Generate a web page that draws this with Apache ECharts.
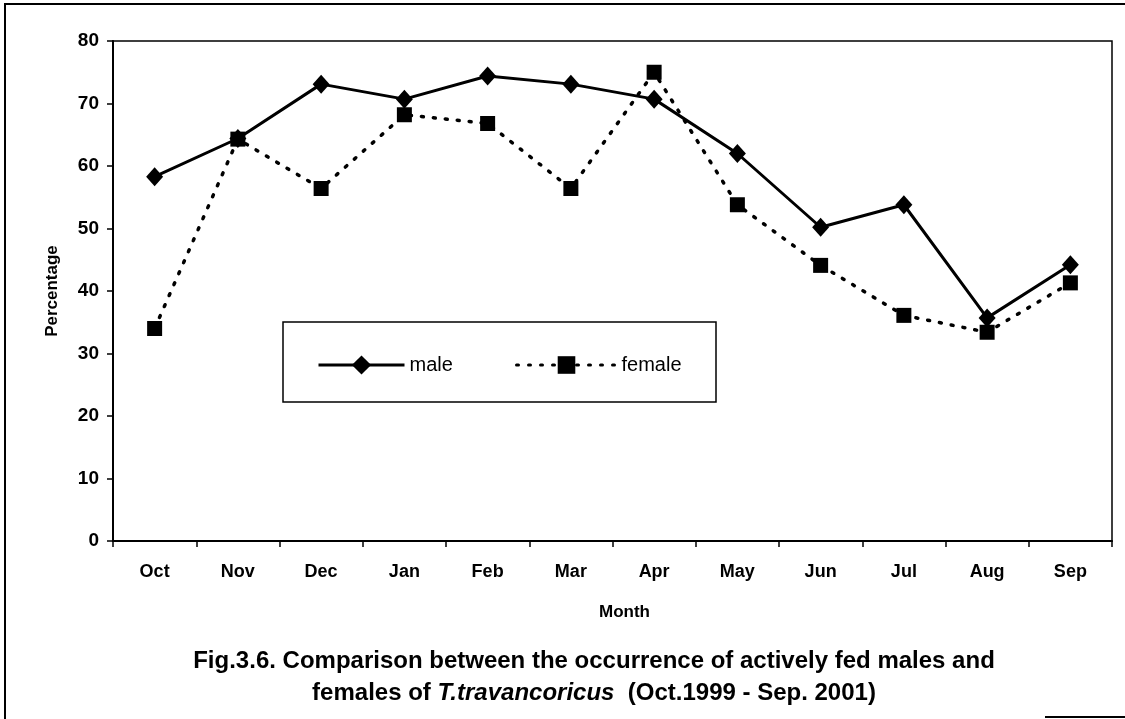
<!DOCTYPE html>
<html>
<head>
<meta charset="utf-8">
<script src="https://cdn.jsdelivr.net/npm/echarts@6/dist/echarts.min.js"></script>
<style>
  html, body { margin: 0; padding: 0; background: #fff; }
  #chart { width: 1125px; height: 719px; }
</style>
</head>
<body>
<div id="chart"></div>
<script>
// months on the x axis
const months = ["Oct", "Nov", "Dec", "Jan", "Feb", "Mar", "Apr", "May", "Jun", "Jul", "Aug", "Sep"];
// percentage of actively fed individuals
const maleValues = [58.3, 64.4, 73.1, 70.7, 74.4, 73.1, 70.7, 62.0, 50.2, 53.8, 35.7, 44.2];
const femaleValues = [34.0, 64.3, 56.4, 68.2, 66.8, 56.4, 75.0, 53.8, 44.1, 36.1, 33.4, 41.3];

const font = "'Liberation Sans', Arial, sans-serif";

let chart = echarts.init(document.getElementById("chart"));

let option = {
  backgroundColor: "#fff",
  animation: false,
  title: {
    left: 589,
    top: 640,
    textAlign: "center",
    text: "Fig.3.6. Comparison between the occurrence of actively fed males and\nfemales of {i|T.travancoricus}  (Oct.1999 - Sep. 2001)",
    textStyle: {
      fontFamily: font,
      fontSize: 24,
      fontWeight: "bold",
      color: "#000",
      lineHeight: 32,
      rich: {
        i: { fontFamily: font, fontSize: 24, fontWeight: "bold", fontStyle: "italic", color: "#000", lineHeight: 32 }
      }
    }
  },
  grid: {
    left: 113,
    right: 13,
    top: 41,
    bottom: 178,
    show: true,
    borderColor: "#000",
    borderWidth: 1.5
  },
  legend: [
    {
      data: ["male"],
      left: 312,
      top: 350,
      itemWidth: 86,
      itemHeight: 24,
      lineStyle: { width: 3 },
      textStyle: { fontFamily: font, fontSize: 20, color: "#000" }
    },
    {
      data: ["female"],
      left: 510,
      top: 350,
      itemWidth: 100,
      itemHeight: 22,
      lineStyle: { width: 3 },
      textStyle: { fontFamily: font, fontSize: 20, color: "#000" }
    }
  ],
  graphic: [
    {
      type: "rect",
      shape: { x: 283, y: 322, width: 433, height: 80 },
      style: { fill: null, stroke: "#000", lineWidth: 1.5 },
      z: 1
    },
    {
      type: "polyline",
      shape: { points: [[5, 719], [5, 4], [1125, 4]] },
      style: { stroke: "#000", lineWidth: 2, fill: null }
    },
    {
      type: "line",
      shape: { x1: 1045, y1: 717, x2: 1125, y2: 717 },
      style: { stroke: "#000", lineWidth: 2 }
    },
    {
      type: "text",
      left: 599,
      top: 604,
      style: { text: "Month", fontFamily: font, fontSize: 17, fontWeight: "bold", fill: "#000" }
    }
  ],
  xAxis: {
    type: "category",
    data: months,
    boundaryGap: true,
    axisLine: { lineStyle: { color: "#000", width: 2 } },
    axisTick: { show: true, length: 6, lineStyle: { color: "#000", width: 1.5 } },
    axisLabel: { margin: 22, fontFamily: font, fontSize: 18, fontWeight: "bold", color: "#000" },
    splitLine: { show: false }
  },
  yAxis: {
    type: "value",
    min: 0,
    max: 80,
    interval: 10,
    name: "Percentage",
    nameLocation: "middle",
    nameGap: 52,
    nameTextStyle: { fontFamily: font, fontSize: 17, fontWeight: "bold", color: "#000" },
    axisLine: { show: true, lineStyle: { color: "#000", width: 2 } },
    axisTick: { show: true, length: 6, lineStyle: { color: "#000", width: 1.5 } },
    axisLabel: { margin: 14, fontFamily: font, fontSize: 19, fontWeight: "bold", color: "#000" },
    splitLine: { show: false }
  },
  series: [
    {
      name: "male",
      type: "line",
      data: maleValues,
      symbol: "diamond",
      symbolSize: [17, 19],
      itemStyle: { color: "#000" },
      lineStyle: { color: "#000", width: 3, type: "solid" },
      z: 3
    },
    {
      name: "female",
      type: "line",
      data: femaleValues,
      symbol: "rect",
      symbolSize: 15,
      itemStyle: { color: "#000" },
      lineStyle: { color: "#000", width: 3.5, type: [2, 10], cap: "round" },
      z: 2
    }
  ]
};

chart.setOption(option);
</script>
</body>
</html>
